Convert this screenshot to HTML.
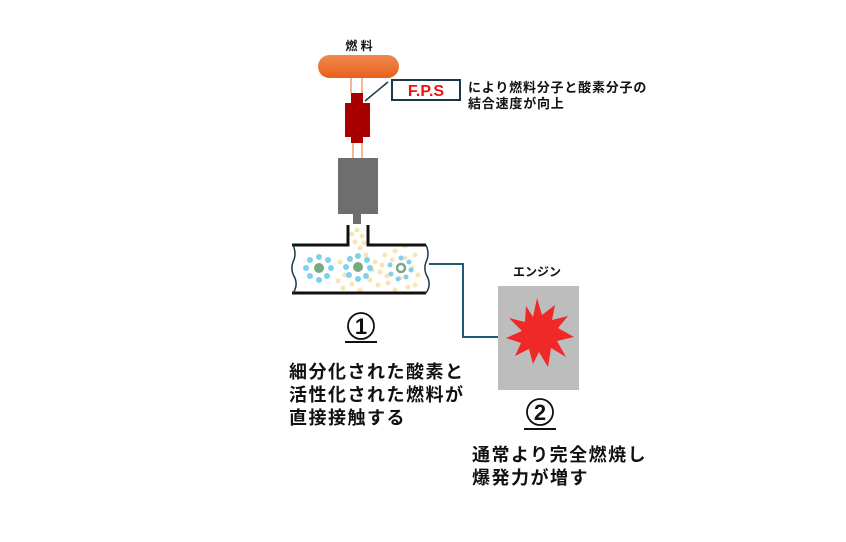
<!DOCTYPE html>
<html><head><meta charset="utf-8"><style>
body{margin:0;background:#fff}
text{font-family:"Liberation Sans","Noto Sans CJK JP",sans-serif;font-weight:bold;fill:#111}
</style></head><body>
<svg width="846" height="537" viewBox="0 0 846 537" xmlns="http://www.w3.org/2000/svg">
<defs><linearGradient id="og" x1="0" y1="0" x2="0" y2="1"><stop offset="0" stop-color="#f08a50"/><stop offset="1" stop-color="#e8601a"/></linearGradient></defs>
<text x="359" y="50" font-size="12" text-anchor="middle">燃 料</text>
<rect x="318" y="55" width="81" height="23" rx="11.5" fill="url(#og)"/>
<g stroke="#f0a070" stroke-width="1.5"><line x1="351" y1="78" x2="351" y2="93"/><line x1="362" y1="78" x2="362" y2="93"/><line x1="353" y1="143" x2="353" y2="158"/><line x1="362" y1="143" x2="362" y2="158"/></g>
<path d="M351 93H363V103H370V137H363V143H351V137H345V103H351Z" fill="#a80000"/>
<line x1="365" y1="101" x2="388" y2="82" stroke="#1a3a4a" stroke-width="1.5"/>
<rect x="392" y="80" width="68" height="20" fill="#fff" stroke="#1a3a4a" stroke-width="2"/>
<text x="426" y="96" font-size="16" text-anchor="middle" style="fill:#f01010">F.P.S</text>
<text x="468" y="92" font-size="13" letter-spacing="0.8">により燃料分子と酸素分子の</text>
<text x="468" y="108" font-size="13" letter-spacing="0.8">結合速度が向上</text>
<rect x="338" y="158" width="40" height="56" fill="#6e6e6e"/>
<rect x="353" y="214" width="8" height="10" fill="#6e6e6e"/>
<g fill="#f8e4b4">
<circle cx="357" cy="230" r="2.5"/><circle cx="362" cy="236" r="2.5"/><circle cx="355" cy="242" r="2.5"/><circle cx="360" cy="248" r="2.5"/><circle cx="352" cy="234" r="2.5"/><circle cx="364" cy="243" r="2.5"/>
<circle cx="350" cy="258" r="2.5"/><circle cx="366" cy="255" r="2.5"/><circle cx="375" cy="262" r="2.5"/><circle cx="385" cy="255" r="2.5"/><circle cx="392" cy="260" r="2.5"/><circle cx="405" cy="258" r="2.5"/><circle cx="412" cy="268" r="2.5"/><circle cx="400" cy="278" r="2.5"/><circle cx="388" cy="283" r="2.5"/><circle cx="370" cy="280" r="2.5"/><circle cx="345" cy="275" r="2.5"/><circle cx="343" cy="288" r="2.5"/><circle cx="360" cy="290" r="2.5"/><circle cx="380" cy="272" r="2.5"/><circle cx="415" cy="285" r="2.5"/><circle cx="395" cy="290" r="2.5"/><circle cx="405" cy="246" r="2.5"/><circle cx="340" cy="262" r="2.5"/>
<circle cx="382" cy="265" r="2.5"/><circle cx="378" cy="285" r="2.5"/><circle cx="387" cy="276" r="2.5"/><circle cx="415" cy="255" r="2.5"/><circle cx="418" cy="275" r="2.5"/><circle cx="352" cy="284" r="2.5"/><circle cx="372" cy="270" r="2.5"/><circle cx="395" cy="251" r="2.5"/><circle cx="338" cy="281" r="2.5"/><circle cx="408" cy="287" r="2.5"/>
</g>
<g fill="#7dd0f0">
<circle cx="319" cy="257" r="3"/><circle cx="328" cy="260" r="3"/><circle cx="331" cy="268" r="3"/><circle cx="327" cy="276" r="3"/><circle cx="319" cy="280" r="3"/><circle cx="310" cy="276" r="3"/><circle cx="306" cy="268" r="3"/><circle cx="310" cy="260" r="3"/>
<circle cx="358" cy="256" r="3"/><circle cx="367" cy="260" r="3"/><circle cx="370" cy="268" r="3"/><circle cx="366" cy="276" r="3"/><circle cx="358" cy="279" r="3"/><circle cx="349" cy="275" r="3"/><circle cx="346" cy="267" r="3"/><circle cx="350" cy="259" r="3"/>
<circle cx="401" cy="258" r="2.5"/><circle cx="409" cy="262" r="2.5"/><circle cx="411" cy="270" r="2.5"/><circle cx="406" cy="277" r="2.5"/><circle cx="398" cy="279" r="2.5"/><circle cx="391" cy="274" r="2.5"/><circle cx="390" cy="265" r="2.5"/>
</g>
<circle cx="319" cy="268" r="5" fill="#7aa880"/><circle cx="358" cy="267" r="5" fill="#7aa880"/><circle cx="401" cy="268" r="4" fill="none" stroke="#7aa880" stroke-width="2.5"/>
<path d="M292 245H348V225M368 225V245H426" fill="none" stroke="#111" stroke-width="3"/>
<line x1="292" y1="293" x2="426" y2="293" stroke="#111" stroke-width="3"/>
<path d="M293 245Q297 254 293 262Q290 270 295 278Q298 286 293 293" fill="none" stroke="#1a3a4a" stroke-width="1.5"/>
<path d="M426 245Q430 254 426 262Q423 270 428 278Q431 286 426 293" fill="none" stroke="#1a3a4a" stroke-width="1.5"/>
<path d="M429 264H463V337H498" fill="none" stroke="#1e5a78" stroke-width="2"/>
<text x="537" y="276" font-size="12" text-anchor="middle">エンジン</text>
<rect x="498" y="286" width="81" height="104" fill="#bdbdbd"/>
<polygon points="537,298 542,315 555,305 552,320 568,316 558,328 574,337 557,341 566,357 551,348 548,367 539,352 533,364 529,349 515,356 521,343 506,338 522,331 509,318 525,322 526,306 533,317" fill="#f02828"/>
<circle cx="361" cy="326" r="13" fill="none" stroke="#111" stroke-width="1.8"/>
<text x="361" y="334" font-size="22" text-anchor="middle">1</text>
<line x1="345" y1="342" x2="377" y2="342" stroke="#111" stroke-width="2"/>
<g font-size="18" letter-spacing="1.5">
<text x="289" y="378">細分化された酸素と</text>
<text x="289" y="401">活性化された燃料が</text>
<text x="289" y="424">直接接触する</text>
<text x="472" y="461">通常より完全燃焼し</text>
<text x="472" y="484">爆発力が増す</text>
</g>
<circle cx="540" cy="412" r="13" fill="none" stroke="#111" stroke-width="1.8"/>
<text x="540" y="420" font-size="22" text-anchor="middle">2</text>
<line x1="524" y1="429" x2="556" y2="429" stroke="#111" stroke-width="2"/>
</svg>
</body></html>
